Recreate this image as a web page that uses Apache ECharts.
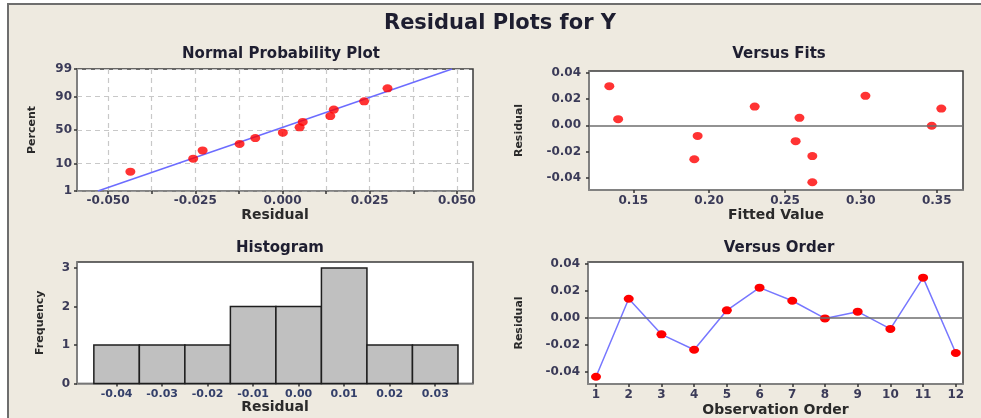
<!DOCTYPE html>
<html>
<head>
<meta charset="utf-8">
<script src="https://cdn.jsdelivr.net/npm/echarts@6/dist/echarts.min.js"></script>
<style>
html,body{margin:0;padding:0;background:#ffffff;}
#chart{width:981px;height:418px;}
</style>
</head>
<body>
<div id="chart"></div>
<script>
// ---------------- data ----------------
const observationOrder = [1, 2, 3, 4, 5, 6, 7, 8, 9, 10, 11, 12];
const residuals = [-0.0435, 0.0143, -0.0121, -0.0235, 0.0057, 0.0225, 0.0128, -0.0003, 0.0047, -0.0081, 0.0299, -0.0259];
const fittedValues = [0.268, 0.230, 0.257, 0.268, 0.2595, 0.303, 0.353, 0.3467, 0.140, 0.1924, 0.1342, 0.1902];

const nppResiduals = [-0.0436, -0.0256, -0.0229, -0.0123, -0.0078, 0.0001, 0.0049, 0.0058, 0.0137, 0.0147, 0.0234, 0.0301];
const nppPercent = [5.6, 13.7, 21.8, 29.8, 37.9, 46.0, 54.0, 62.1, 70.2, 78.2, 86.3, 94.4];
const fitLineX = [-0.0529, 0.0486];
const fitLinePercent = [1, 99];

const histBinCenters = [-0.04, -0.03, -0.02, -0.01, 0.00, 0.01, 0.02, 0.03];
const histCounts = [1, 1, 1, 2, 2, 3, 1, 1];

const nppXTicks = [-0.05, -0.025, 0, 0.025, 0.05];
const nppXGrid = [-0.05, -0.0375, -0.025, -0.0125, 0, 0.0125, 0.025, 0.0375, 0.05];
const nppYTicks = [1, 10, 50, 90, 99];
const residTicks = [-0.04, -0.02, 0, 0.02, 0.04];
const fitTicks = [0.15, 0.20, 0.25, 0.30, 0.35];
const histYTicks = [0, 1, 2, 3];

// ---------------- helpers ----------------
// inverse standard normal CDF (Acklam) – probability-paper scale transform
function probit(p) {
  const a = [-3.969683028665376e+01, 2.209460984245205e+02, -2.759285104469687e+02, 1.383577518672690e+02, -3.066479806614716e+01, 2.506628277459239e+00];
  const b = [-5.447609879822406e+01, 1.615858368580409e+02, -1.556989798598866e+02, 6.680131188771972e+01, -1.328068155288572e+01];
  const c = [-7.784894002430293e-03, -3.223964580411365e-01, -2.400758277161838e+00, -2.549732539343734e+00, 4.374664141464968e+00, 2.938163982698783e+00];
  const d = [7.784695709041462e-03, 3.224671290700398e-01, 2.445134137142996e+00, 3.754408661907416e+00];
  const pl = 0.02425, ph = 1 - pl;
  let q, r;
  if (p < pl) {
    q = Math.sqrt(-2 * Math.log(p));
    return (((((c[0]*q+c[1])*q+c[2])*q+c[3])*q+c[4])*q+c[5]) / ((((d[0]*q+d[1])*q+d[2])*q+d[3])*q+1);
  } else if (p <= ph) {
    q = p - 0.5; r = q * q;
    return (((((a[0]*r+a[1])*r+a[2])*r+a[3])*r+a[4])*r+a[5])*q / (((((b[0]*r+b[1])*r+b[2])*r+b[3])*r+b[4])*r+1);
  } else {
    q = Math.sqrt(-2 * Math.log(1 - p));
    return -(((((c[0]*q+c[1])*q+c[2])*q+c[3])*q+c[4])*q+c[5]) / ((((d[0]*q+d[1])*q+d[2])*q+d[3])*q+1);
  }
}
const z = pct => probit(pct / 100);
const zTicks = nppYTicks.map(z);

const FONT = 'DejaVu Sans';
const tickColor = '#3b3b58';
const nameColor = '#2a2a2a';
const labelStyle = { color: tickColor, fontFamily: FONT, fontWeight: 'bold', fontSize: 12 };
const xNameStyle = { color: nameColor, fontFamily: FONT, fontWeight: 'bold', fontSize: 14 };
const yNameStyle = { color: nameColor, fontFamily: FONT, fontWeight: 'bold', fontSize: 11 };
const headStyle = { color: '#1e1e30', fontFamily: FONT, fontWeight: 'bold', fontSize: 15 };

function axisBase(extra) {
  return Object.assign({
    type: 'value',
    axisLine: { show: true, onZero: false, lineStyle: { color: '#8a8a8a', width: 1.5 } },
    splitLine: { show: false },
    nameLocation: 'middle'
  }, extra);
}
function ticks(vals) {
  return { show: true, length: 3, customValues: vals, lineStyle: { color: '#333', width: 1.5 } };
}

const grids = [
  { left: 77, top: 69, width: 396, height: 122 },
  { left: 589, top: 71, width: 374, height: 119 },
  { left: 77, top: 262, width: 396, height: 121.5 },
  { left: 588, top: 262, width: 375, height: 122 }
].map(g => Object.assign(g, { show: true, backgroundColor: '#ffffff', borderColor: '#3a3a3a', borderWidth: 1.5 }));

const dash = { show: true, lineStyle: { color: '#c8c8c8', type: [5, 4], width: 1.2 } };

const option = {
  backgroundColor: '#ffffff',
  animation: false,
  graphic: [{
    type: 'rect', z: -10, silent: true,
    shape: { x: 8, y: 4, width: 1000, height: 440 },
    style: { fill: '#eeeae0', stroke: '#6e6e6e', lineWidth: 2 }
  }],
  title: [
    { text: 'Residual Plots for Y', left: 495, top: 8, textAlign: 'center', textStyle: { color: '#1e1e30', fontFamily: FONT, fontWeight: 'bold', fontSize: 21 } },
    { text: 'Normal Probability Plot', left: 276, top: 42, textAlign: 'center', textStyle: headStyle },
    { text: 'Versus Fits', left: 774, top: 42, textAlign: 'center', textStyle: headStyle },
    { text: 'Histogram', left: 275, top: 236, textAlign: 'center', textStyle: headStyle },
    { text: 'Versus Order', left: 774, top: 236, textAlign: 'center', textStyle: headStyle }
  ],
  grid: grids,
  xAxis: [
    axisBase({
      gridIndex: 0, min: -0.0589, max: 0.0546, name: 'Residual', nameGap: 15, nameTextStyle: xNameStyle,
      axisTick: ticks(nppXGrid),
      axisLabel: Object.assign({ customValues: nppXTicks, margin: 4, formatter: v => v.toFixed(3) }, labelStyle),
      splitLine: dash
    }),
    axisBase({
      gridIndex: 1, min: 0.1208, max: 0.3673, name: 'Fitted Value', nameGap: 18, nameTextStyle: xNameStyle,
      axisTick: ticks(fitTicks),
      axisLabel: Object.assign({ customValues: fitTicks, margin: 5, formatter: v => v.toFixed(2) }, labelStyle)
    }),
    axisBase({
      gridIndex: 2, min: -0.0487, max: 0.0383, name: 'Residual', nameGap: 15, nameTextStyle: xNameStyle,
      axisTick: ticks(histBinCenters),
      axisLabel: Object.assign({ customValues: histBinCenters, margin: 5, formatter: v => v.toFixed(2) }, labelStyle, { fontSize: 11, color: '#34406a' })
    }),
    axisBase({
      gridIndex: 3, min: 0.755, max: 12.22, name: 'Observation Order', nameGap: 19, nameTextStyle: xNameStyle,
      axisTick: ticks(observationOrder),
      axisLabel: Object.assign({ customValues: observationOrder, margin: 5, formatter: v => String(Math.round(v)) }, labelStyle)
    })
  ],
  yAxis: [
    axisBase({
      gridIndex: 0, min: zTicks[0], max: zTicks[zTicks.length - 1], name: 'Percent', nameGap: 39, nameTextStyle: yNameStyle,
      axisTick: ticks(zTicks),
      axisLabel: Object.assign({ customValues: zTicks, margin: 5, showMinLabel: true, showMaxLabel: true,
        formatter: v => { let best = 0; zTicks.forEach((t, i) => { if (Math.abs(t - v) < Math.abs(zTicks[best] - v)) best = i; }); return String(nppYTicks[best]); } }, labelStyle),
      splitLine: dash
    }),
    axisBase({
      gridIndex: 1, min: -0.0494, max: 0.0415, name: 'Residual', nameGap: 64, nameTextStyle: yNameStyle,
      axisTick: ticks(residTicks),
      axisLabel: Object.assign({ customValues: residTicks, margin: 8, formatter: v => v.toFixed(2) }, labelStyle)
    }),
    axisBase({
      gridIndex: 2, min: 0, max: 3.157, name: 'Frequency', nameGap: 31, nameTextStyle: yNameStyle,
      axisTick: ticks(histYTicks),
      axisLabel: Object.assign({ customValues: histYTicks, margin: 7, formatter: v => String(Math.round(v)) }, labelStyle)
    }),
    axisBase({
      gridIndex: 3, min: -0.0489, max: 0.0415, name: 'Residual', nameGap: 63, nameTextStyle: yNameStyle,
      axisTick: ticks(residTicks),
      axisLabel: Object.assign({ customValues: residTicks, margin: 8, formatter: v => v.toFixed(2) }, labelStyle)
    })
  ],
  series: [
    // Normal probability plot: fit line
    {
      type: 'line', xAxisIndex: 0, yAxisIndex: 0, symbol: 'none', silent: true,
      data: fitLineX.map((x, i) => [x, z(fitLinePercent[i])]),
      lineStyle: { color: '#6c6cff', width: 1.5 }, z: 3
    },
    {
      type: 'scatter', xAxisIndex: 0, yAxisIndex: 0, symbol: 'circle', symbolSize: [10, 8],
      data: nppResiduals.map((x, i) => [x, z(nppPercent[i])]),
      itemStyle: { color: '#ff0000' }, z: 4
    },
    // Versus fits
    {
      type: 'scatter', xAxisIndex: 1, yAxisIndex: 1, symbol: 'circle', symbolSize: [10, 8],
      data: fittedValues.map((f, i) => [f, residuals[i]]),
      itemStyle: { color: '#ff0000' }, z: 4,
      markLine: { silent: true, symbol: 'none', label: { show: false },
        lineStyle: { color: '#6e6e6e', width: 1.5, type: 'solid' }, data: [{ yAxis: 0 }] }
    },
    // Histogram
    {
      type: 'custom', xAxisIndex: 2, yAxisIndex: 2,
      data: histBinCenters.map((c, i) => [c, histCounts[i]]),
      renderItem: function (params, api) {
        const c = api.value(0), n = api.value(1);
        const p0 = api.coord([c - 0.005, n]);
        const p1 = api.coord([c + 0.005, 0]);
        return { type: 'rect', shape: { x: p0[0], y: p0[1], width: p1[0] - p0[0], height: p1[1] - p0[1] },
          style: { fill: '#c0c0c0', stroke: '#1e1e1e', lineWidth: 1.5 } };
      }
    },
    // Versus order
    {
      type: 'line', xAxisIndex: 3, yAxisIndex: 3, symbol: 'circle', symbolSize: [10, 8],
      data: observationOrder.map((o, i) => [o, residuals[i]]),
      lineStyle: { color: '#7777ff', width: 1.5 },
      itemStyle: { color: '#ff0000' }, z: 4,
      markLine: { silent: true, symbol: 'none', label: { show: false },
        lineStyle: { color: '#6e6e6e', width: 1.5, type: 'solid' }, data: [{ yAxis: 0 }] }
    }
  ]
};

const chart = echarts.init(document.getElementById('chart'), null, { renderer: 'canvas' });
chart.setOption(option);
</script>
</body>
</html>
